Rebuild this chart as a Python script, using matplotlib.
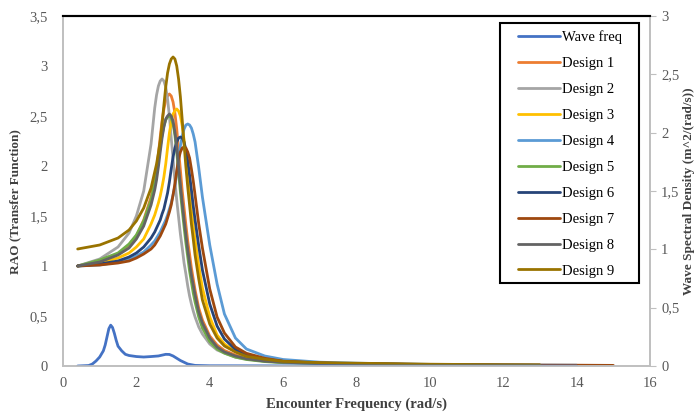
import numpy as np
import matplotlib
matplotlib.use('Agg')
import matplotlib.pyplot as plt
from matplotlib.patches import Rectangle
from matplotlib.ticker import FuncFormatter, MultipleLocator

nan = np.nan

# encounter frequency grid for the RAO curves (rad/s)
freq = [0.4, 1.0, 1.5, 1.8, 2.0, 2.2, 2.4,
        2.5, 2.55, 2.6, 2.65, 2.7, 2.75, 2.8, 2.85, 2.9, 2.95, 3.0, 3.05,
        3.1, 3.15, 3.2, 3.25, 3.3, 3.35, 3.4, 3.45, 3.5, 3.55, 3.6,
        3.7, 3.8, 4.0, 4.2, 4.4, 4.7, 5.0, 5.5, 6.0, 7.0, 8.0,
        10.0, 12.0, 13.0, 14.0, 15.0]

design1 = [1.00, 1.05, 1.12, 1.21, 1.30, 1.46, 1.69,
           1.86, 1.97, 2.12, 2.29, 2.45, 2.57, 2.66, 2.70, 2.72, 2.70, 2.64, 2.53,
           2.37, 2.16, 1.96, 1.75, 1.58, 1.41, 1.25, 1.12, 0.98, 0.87, 0.76,
           0.58, 0.46, 0.30, 0.21, 0.155, 0.11, 0.078, 0.052, 0.039, 0.027, 0.022,
           0.014, 0.008, 0.007, nan, nan]
design2 = [1.00, 1.07, 1.19, 1.33, 1.50, 1.75, 2.22,
           2.58, 2.71, 2.80, 2.85, 2.87, 2.85, 2.79, 2.67, 2.50, 2.28, 2.07, 1.85,
           1.66, 1.49, 1.32, 1.18, 1.03, 0.92, 0.80, 0.70, 0.62, 0.55, 0.49,
           0.39, 0.32, 0.22, 0.16, 0.13, 0.089, 0.069, 0.049, 0.037, 0.027, 0.022,
           0.013, 0.008, 0.007, nan, nan]
design3 = [1.00, 1.03, 1.08, 1.13, 1.19, 1.27, 1.42,
           1.51, 1.57, 1.63, 1.70, 1.79, 1.89, 2.02, 2.18, 2.33, 2.44, 2.52, 2.55,
           2.57, 2.55, 2.50, 2.40, 2.26, 2.08, 1.90, 1.72, 1.55, 1.40, 1.26,
           1.00, 0.78, 0.49, 0.31, 0.22, 0.144, 0.10, 0.062, 0.044, 0.028, 0.022,
           0.013, 0.008, 0.007, nan, nan]
design4 = [1.00, 1.01, 1.04, 1.07, 1.10, 1.14, 1.21,
           1.25, 1.28, 1.31, 1.34, 1.38, 1.42, 1.46, 1.51, 1.57, 1.63, 1.71, 1.80,
           1.92, 2.07, 2.20, 2.30, 2.37, 2.41, 2.42, 2.41, 2.38, 2.32, 2.24,
           1.98, 1.69, 1.21, 0.82, 0.52, 0.28, 0.17, 0.10, 0.065, 0.038, 0.028,
           0.016, 0.010, 0.009, 0.008, nan]
design5 = [1.00, 1.06, 1.13, 1.22, 1.31, 1.45, 1.66,
           1.83, 1.93, 2.05, 2.19, 2.31, 2.40, 2.46, 2.49, 2.50, 2.48, 2.42, 2.31,
           2.14, 1.94, 1.74, 1.56, 1.39, 1.23, 1.09, 0.95, 0.84, 0.73, 0.64,
           0.49, 0.38, 0.245, 0.17, 0.128, 0.088, 0.065, 0.044, 0.033, 0.024, 0.019,
           0.012, 0.007, 0.006, nan, nan]
design6 = [1.00, 1.02, 1.05, 1.09, 1.13, 1.19, 1.28,
           1.34, 1.38, 1.42, 1.46, 1.52, 1.57, 1.65, 1.73, 1.84, 1.97, 2.09, 2.18,
           2.24, 2.28, 2.29, 2.28, 2.24, 2.16, 2.05, 1.91, 1.76, 1.60, 1.46,
           1.20, 0.96, 0.62, 0.40, 0.27, 0.165, 0.11, 0.069, 0.046, 0.028, 0.022,
           0.013, 0.008, 0.007, nan, nan]
design7 = [1.00, 1.01, 1.03, 1.05, 1.08, 1.12, 1.17,
           1.21, 1.24, 1.27, 1.30, 1.34, 1.38, 1.42, 1.48, 1.54, 1.61, 1.71, 1.82,
           1.95, 2.07, 2.14, 2.18, 2.19, 2.18, 2.14, 2.08, 1.97, 1.85, 1.71,
           1.42, 1.18, 0.77, 0.49, 0.33, 0.19, 0.127, 0.077, 0.048, 0.030, 0.023,
           0.015, 0.010, 0.009, 0.008, 0.006]
design8 = [1.00, 1.04, 1.11, 1.18, 1.27, 1.40, 1.61,
           1.76, 1.86, 1.99, 2.14, 2.28, 2.39, 2.47, 2.50, 2.52, 2.50, 2.45, 2.34,
           2.19, 2.00, 1.81, 1.63, 1.46, 1.31, 1.16, 1.03, 0.91, 0.81, 0.71,
           0.54, 0.43, 0.28, 0.19, 0.14, 0.10, 0.072, 0.048, 0.037, 0.025, 0.020,
           0.013, 0.008, 0.007, nan, nan]
design9 = [1.17, 1.21, 1.28, 1.36, 1.45, 1.58, 1.78,
           1.94, 2.02, 2.13, 2.25, 2.42, 2.61, 2.79, 2.93, 3.02, 3.07, 3.09, 3.07,
           3.00, 2.87, 2.69, 2.46, 2.22, 1.99, 1.79, 1.61, 1.42, 1.27, 1.11,
           0.87, 0.66, 0.42, 0.28, 0.20, 0.14, 0.096, 0.068, 0.046, 0.034, 0.028,
           0.018, 0.012, 0.011, nan, nan]

# wave spectrum (secondary axis)
wave_freq = [0.4, 0.7, 0.8, 0.9, 1.0, 1.1, 1.15, 1.2, 1.25, 1.3,
             1.35, 1.4, 1.45, 1.5, 1.6, 1.7, 1.8, 2.0, 2.2, 2.4,
             2.6, 2.8, 2.9, 3.0, 3.2, 3.4, 3.6, 4.0, 6.0, 10.0, 14.0]
wave_spec = [0, 0.004, 0.017, 0.043, 0.077, 0.13, 0.18, 0.25, 0.32, 0.35,
             0.33, 0.28, 0.22, 0.17, 0.13, 0.10, 0.09, 0.081, 0.077, 0.081,
             0.086, 0.10, 0.099, 0.086, 0.047, 0.017, 0.005, 0.002, 0.001, 0, 0]

designs = [design1, design2, design3, design4, design5,
           design6, design7, design8, design9]
names = ['Design %d' % i for i in range(1, 10)]
colors = ['#ED7D31', '#A5A5A5', '#FFC000', '#5B9BD5', '#70AD47',
          '#264478', '#9E480E', '#636363', '#997300']

plt.rcParams['font.family'] = ['Liberation Serif', 'DejaVu Serif']

fig = plt.figure(figsize=(6.97, 4.15), dpi=100)
ax = fig.add_axes([63 / 697, 1 - 366 / 415, 587 / 697, 350 / 415])
ax2 = ax.twinx()

lines = []
for vals, name, c in zip(designs, names, colors):
    l, = ax.plot(freq, vals, color=c, lw=2.0, label=name,
                 solid_capstyle='round', solid_joinstyle='round')
    lines.append(l)
wl, = ax2.plot(wave_freq, wave_spec, color='#4472C4', lw=2.0, label='Wave freq',
               solid_capstyle='round', solid_joinstyle='round')

comma = FuncFormatter(lambda v, p: ('%g' % v).replace('.', ','))

ax.set_xlim(0, 16)
ax.set_ylim(0, 3.5)
ax2.set_ylim(0, 3)
ax.xaxis.set_major_locator(MultipleLocator(2))
ax.yaxis.set_major_locator(MultipleLocator(0.5))
ax2.yaxis.set_major_locator(MultipleLocator(0.5))
for a in (ax, ax2):
    a.yaxis.set_major_formatter(comma)
ax.xaxis.set_major_formatter(comma)

gray = '#BFBFBF'
for a in (ax, ax2):
    for s in ('left', 'right', 'bottom'):
        a.spines[s].set_color(gray)
        a.spines[s].set_linewidth(1.2)
    a.spines['top'].set_color('black')
    a.spines['top'].set_linewidth(1.5)

ax.tick_params(axis='x', length=0, pad=8, labelsize=10.5, labelcolor='#595959')
ax.tick_params(axis='y', length=0, pad=11, labelsize=10.5, labelcolor='#595959')
ax2.tick_params(axis='y', length=4, color=gray, pad=4, labelsize=10.5,
                labelcolor='#595959')

ax.set_xlabel('Encounter Frequency (rad/s)', fontsize=10.5, fontweight='bold',
              color='#404040', labelpad=5)
ax.set_ylabel('RAO (Transfer Function)', fontsize=9.5, fontweight='bold',
              color='#404040')
ax.yaxis.set_label_coords(-0.0716, 0.471)
ax2.set_ylabel('Wave Spectral Density (m^2/(rad/s))', fontsize=9.5,
               fontweight='bold', color='#404040')
ax2.yaxis.set_label_coords(1.057, 0.5)

# legend box drawn by hand so the padding matches
ax2.add_patch(Rectangle((0.744, 0.237), 0.237, 0.743, transform=ax2.transAxes,
                        facecolor='white', edgecolor='black', lw=1.5, zorder=4))
leg = ax2.legend([wl] + lines, ['Wave freq'] + names, loc='upper left',
                 bbox_to_anchor=(0.775, 0.958), fontsize=10.5, frameon=False,
                 labelspacing=0.87, handlelength=2.9, handletextpad=0.15,
                 borderpad=0, borderaxespad=0)
leg.set_zorder(5)

fig.savefig('out.png', dpi=100)
